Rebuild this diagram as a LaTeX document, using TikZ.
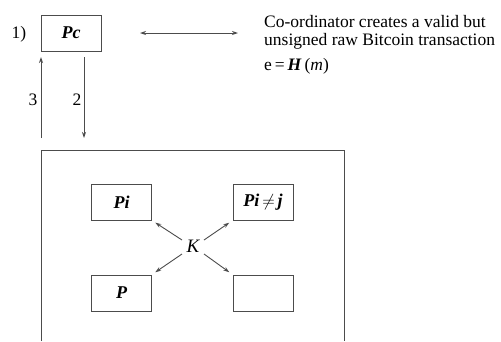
\documentclass[tikz,border=0pt]{standalone}
\usepackage{fontspec}
\setmainfont{Liberation Serif}
\usetikzlibrary{arrows.meta}
\begin{document}
\begin{tikzpicture}[x=1pt,y=-1pt,
  ln/.style={draw=black!70,line width=0.9pt},
  arr/.style={ln,-{Stealth[length=6pt,width=4pt]}},
  dbl/.style={ln,{Stealth[length=6pt,width=4pt]}-{Stealth[length=6pt,width=4pt]}},
  pbox/.style={ln,minimum width=60pt,minimum height=36pt,inner sep=0pt,font=\fontsize{18}{18}\selectfont\bfseries\itshape},
  lbl/.style={inner sep=0pt,font=\fontsize{17.5}{18}\selectfont}]
\useasboundingbox (0,0) rectangle (501,341);
\node[lbl] (one) at (19,34) {1)};
\node[pbox] (pc) at (71,33) {Pc};
\coordinate (dl) at (140,33);
\coordinate (dr) at (238,33);
\draw[dbl] (dl) -- (dr);
\node[lbl,anchor=base west] (txt1) at (264,27) {Co-ordinator creates a valid but};
\node[lbl,anchor=base west] (txt2) at (264,45) {unsigned raw Bitcoin transaction};
\node[lbl,anchor=base west] (eq) at (264,70) {e\,=\,\textbf{\textit{H}}\,(\textit{m})};
\coordinate (a3s) at (41,138);
\coordinate (a3e) at (41,57);
\draw[arr] (a3s) -- (a3e);
\coordinate (a2s) at (84,57);
\coordinate (a2e) at (84,138);
\draw[arr] (a2s) -- (a2e);
\node[lbl] (n3) at (33,100) {3};
\node[lbl] (n2) at (77,100) {2};
\coordinate (bl) at (41,341);
\coordinate (tl) at (41,150);
\coordinate (tr) at (344,150);
\coordinate (br) at (344,341);
\draw[ln] (bl) -- (tl) -- (tr) -- (br);
\node[pbox] (pi) at (121.5,202) {Pi};
\node[pbox] (pij) at (263,202) {Pi\,$\neq$\,j};
\node[pbox] (p) at (121.5,293) {P};
\node[pbox] (pe) at (263,293) {};
\node[lbl,font=\fontsize{19}{19}\selectfont\itshape] (k) at (193,246) {K};
\coordinate (k1) at (182,240);
\coordinate (k2) at (204,240);
\coordinate (k3) at (182,254);
\coordinate (k4) at (204,254);
\draw[arr,shorten >=4pt] (k1) -- (pi.south east);
\draw[arr,shorten >=4pt] (k2) -- (pij.south west);
\draw[arr,shorten >=4pt] (k3) -- (p.north east);
\draw[arr,shorten >=4pt] (k4) -- (pe.north west);
\end{tikzpicture}
\end{document}
